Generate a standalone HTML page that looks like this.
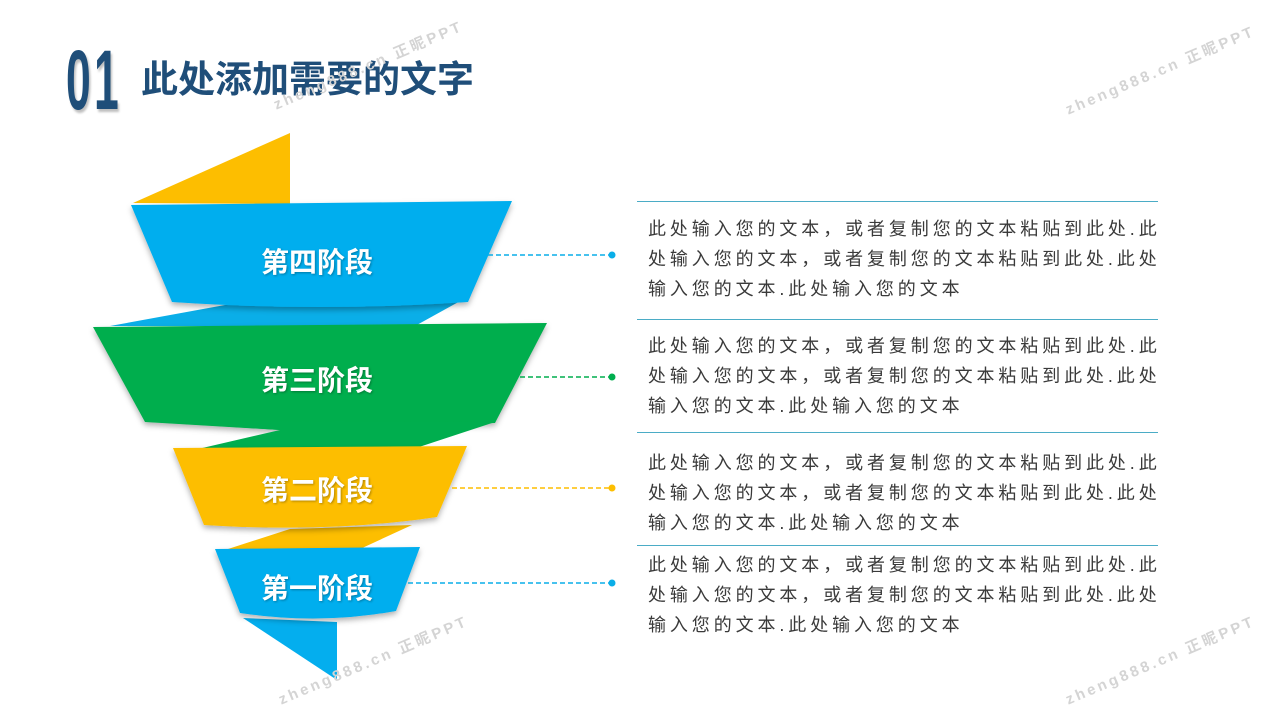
<!DOCTYPE html>
<html><head><meta charset="utf-8"><style>
html,body{margin:0;padding:0;background:#fff;}
body{width:1280px;height:720px;position:relative;overflow:hidden;font-family:"Liberation Sans","Noto Sans CJK SC",sans-serif;}
.wm{position:absolute;color:#d4d4d4;font-size:15px;font-weight:bold;letter-spacing:3px;white-space:nowrap;transform-origin:0 0;transform:rotate(-23deg);}
.t{position:absolute;left:648px;font-size:18px;color:#3a3a3a;letter-spacing:3.9px;white-space:nowrap;line-height:30px;}
.hl{position:absolute;left:637px;width:521px;height:1px;background:#4bacc6;}
.lbl{position:absolute;color:#fff;font-weight:bold;font-size:28px;white-space:nowrap;text-shadow:1px 1px 2px rgba(0,0,0,.3);}
</style></head><body>
<div style="position:absolute;left:66px;top:44px;font-size:84px;font-weight:bold;color:#1f4e79;line-height:72px;letter-spacing:6px;transform:scaleX(0.53);transform-origin:0 0;text-shadow:3px 3px 3px rgba(0,0,0,.25)">01</div>
<div style="position:absolute;left:141px;top:57px;font-size:37px;font-weight:bold;color:#1f4e79;line-height:46px;white-space:nowrap;">此处添加需要的文字</div>

<svg width="1280" height="720" style="position:absolute;left:0;top:0">
<defs><filter id="s" x="-10%" y="-10%" width="120%" height="130%"><feDropShadow dx="0" dy="3" stdDeviation="3" flood-opacity="0.3"/></filter></defs>
<polygon points="133,203 290,133 290,204" fill="#fdbe00"/>
<polygon points="110,326 225,305 462,300 415,326" fill="#0aaee8"/>
<path d="M131,205 L512,201 L468,302 Q320,312 172,302 Z" fill="#04aeee" filter="url(#s)"/>
<polygon points="93,327 547,323 495,423 280,430 145,422" fill="#00ae4e" filter="url(#s)"/>
<polygon points="145,421 280,430 198,449 413,449 495,422" fill="#00ae4e"/>
<polygon points="228,549 290,529 412,525 360,549" fill="#fdbe00"/>
<path d="M173,448 L467,446 L437,517 Q330,533 204,525 Z" fill="#fdbe00" filter="url(#s)"/>
<polygon points="243,618 337,622 337,680" fill="#04aeee"/>
<path d="M215,549 L420,547 L396,611 Q320,625 240,613 Z" fill="#04aeee" filter="url(#s)"/>
<line x1="488" y1="255" x2="612" y2="255" stroke="#0aaee8" stroke-width="1.5" stroke-dasharray="5,3"/>
<circle cx="612" cy="255" r="3.5" fill="#0aaee8"/>
<line x1="520" y1="377" x2="612" y2="377" stroke="#00ae4e" stroke-width="1.5" stroke-dasharray="5,3"/>
<circle cx="612" cy="377" r="3.5" fill="#00ae4e"/>
<line x1="452" y1="488" x2="612" y2="488" stroke="#fdbe00" stroke-width="1.5" stroke-dasharray="5,3"/>
<circle cx="612" cy="488" r="3.5" fill="#fdbe00"/>
<line x1="408" y1="583" x2="612" y2="583" stroke="#0aaee8" stroke-width="1.5" stroke-dasharray="5,3"/>
<circle cx="612" cy="583" r="3.5" fill="#0aaee8"/>
</svg>
<div class="lbl" style="left:261px;top:241px">第四阶段</div>
<div class="lbl" style="left:261px;top:359px">第三阶段</div>
<div class="lbl" style="left:261px;top:469px">第二阶段</div>
<div class="lbl" style="left:261px;top:567px">第一阶段</div>

<div class="hl" style="top:201px"></div>
<div class="hl" style="top:319px"></div>
<div class="hl" style="top:432px"></div>
<div class="hl" style="top:545px"></div>

<div class="t" style="top:214px">此处输入您的文本，或者复制您的文本粘贴到此处.此<br>处输入您的文本，或者复制您的文本粘贴到此处.此处<br>输入您的文本.此处输入您的文本</div>
<div class="t" style="top:331px">此处输入您的文本，或者复制您的文本粘贴到此处.此<br>处输入您的文本，或者复制您的文本粘贴到此处.此处<br>输入您的文本.此处输入您的文本</div>
<div class="t" style="top:448px">此处输入您的文本，或者复制您的文本粘贴到此处.此<br>处输入您的文本，或者复制您的文本粘贴到此处.此处<br>输入您的文本.此处输入您的文本</div>
<div class="t" style="top:550px">此处输入您的文本，或者复制您的文本粘贴到此处.此<br>处输入您的文本，或者复制您的文本粘贴到此处.此处<br>输入您的文本.此处输入您的文本</div>

<div class="wm" style="left:270px;top:95px">zheng888.cn 正昵PPT</div>
<div class="wm" style="left:1062px;top:100px">zheng888.cn 正昵PPT</div>
<div class="wm" style="left:275px;top:690px">zheng888.cn 正昵PPT</div>
<div class="wm" style="left:1062px;top:690px">zheng888.cn 正昵PPT</div>
</body></html>
